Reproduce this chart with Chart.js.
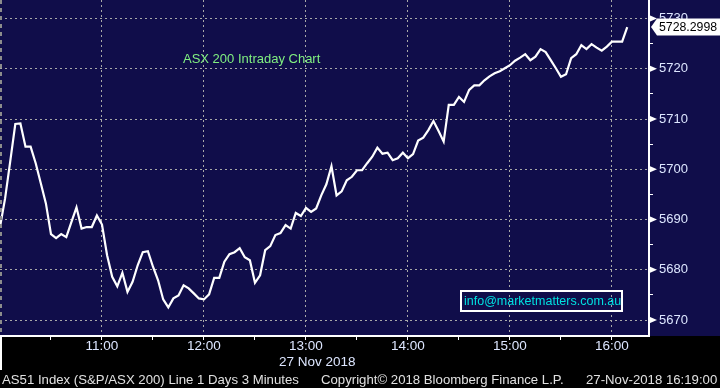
<!DOCTYPE html>
<html>
<head>
<meta charset="utf-8">
<script src="https://cdn.jsdelivr.net/npm/chart.js"></script>
<style>
  html, body { margin: 0; padding: 0; background: #000; }
</style>
</head>
<body>
<canvas id="myChart" width="720" height="388"></canvas>
<script>
// AS51 intraday, 3 minute bars from 10:00
const startTime = '10:00';
const stepMinutes = 3;
const values = [
  5688.5, 5694.2, 5701.5, 5709.0, 5709.1, 5704.5, 5704.5, 5701.2, 5697.2, 5693.2,
  5687.1, 5686.3, 5687.1, 5686.5, 5689.5, 5692.4, 5688.2, 5688.5, 5688.5, 5690.8,
  5689.0, 5682.9, 5678.6, 5676.7, 5679.4, 5675.6, 5677.6, 5680.9, 5683.5, 5683.7,
  5680.6, 5677.9, 5674.1, 5672.5, 5674.3, 5674.9, 5676.9, 5676.3, 5675.3, 5674.3,
  5674.1, 5675.1, 5678.4, 5678.4, 5681.6, 5683.1, 5683.5, 5684.3, 5682.5, 5681.9,
  5677.4, 5678.9, 5683.9, 5684.7, 5686.9, 5687.3, 5688.9, 5688.2, 5691.3, 5690.7,
  5692.3, 5691.5, 5692.2, 5694.8, 5697.0, 5700.6, 5694.8, 5695.6, 5697.8, 5698.5,
  5699.8, 5699.8, 5701.2, 5702.5, 5704.3, 5703.1, 5703.3, 5701.8, 5702.2, 5703.3,
  5702.2, 5703.0, 5705.7, 5706.3, 5707.8, 5709.6, 5707.6, 5705.5, 5712.8, 5712.8,
  5714.4, 5713.4, 5715.8, 5716.7, 5716.7, 5717.7, 5718.5, 5719.1, 5719.5, 5720.1,
  5720.7, 5721.6, 5722.2, 5722.9, 5721.7, 5722.4, 5723.9, 5723.3, 5721.7, 5720.1,
  5718.4, 5718.9, 5722.1, 5722.9, 5724.7, 5723.9, 5724.9, 5724.2, 5723.6, 5724.4,
  5725.4, 5725.4, 5725.4, 5728.2998
];
const lastPriceLabel = '5728.2998';

// axis ticks (minutes after 10:00 / index level)
const xTickMinutes = [0, 30, 60, 90, 120, 150, 180, 210, 240, 270, 300, 330, 360];
const hourLabels = ['10:00', '11:00', '12:00', '13:00', '14:00', '15:00', '16:00'];
const yTicks = [5670, 5675, 5680, 5685, 5690, 5695, 5700, 5705, 5710, 5715, 5720, 5725, 5730];

const navy = '#100d4a';
const gridGray = '#a8a8a8';
const labelColor = '#dde6ff';

Chart.defaults.font.family = "'Liberation Sans', Arial, sans-serif";

const points = values.map((v, i) => ({ x: i * stepMinutes, y: v }));

const decor = {
  id: 'decor',
  beforeDraw(chart) {
    const { ctx, chartArea: a } = chart;
    ctx.save();
    ctx.fillStyle = '#000';
    ctx.fillRect(0, 0, chart.width, chart.height);
    ctx.fillStyle = navy;
    ctx.fillRect(0, 0, chart.width, a.bottom);
    ctx.restore();
  },
  afterDraw(chart) {
    const { ctx, chartArea: a } = chart;
    const y = chart.scales.y;
    ctx.save();

    // left edge dashed line and white separator under it
    ctx.strokeStyle = '#8c8c8c';
    ctx.lineWidth = 2;
    ctx.setLineDash([4, 4]);
    ctx.beginPath();
    ctx.moveTo(1, a.top);
    ctx.lineTo(1, a.bottom);
    ctx.stroke();
    ctx.setLineDash([]);
    ctx.strokeStyle = '#fff';
    ctx.beginPath();
    ctx.moveTo(1, a.bottom);
    ctx.lineTo(1, 370);
    ctx.stroke();

    // right axis arrows at major ticks
    ctx.fillStyle = '#fff';
    yTicks.filter(v => v % 10 === 0).forEach(v => {
      const py = y.getPixelForValue(v);
      ctx.beginPath();
      ctx.moveTo(a.right, py - 3.5);
      ctx.lineTo(a.right + 8, py);
      ctx.lineTo(a.right, py + 3.5);
      ctx.closePath();
      ctx.fill();
    });

    // title
    ctx.font = "13px 'Liberation Sans'";
    ctx.textBaseline = 'middle';
    ctx.textAlign = 'left';
    ctx.fillStyle = '#80f080';
    ctx.fillText('ASX 200 Intraday Chart', 183, 59);

    // email box
    ctx.strokeStyle = '#fff';
    ctx.lineWidth = 2;
    ctx.strokeRect(461, 291, 161, 20);
    ctx.font = "12.5px 'Liberation Sans'";
    ctx.fillStyle = '#00e0e0';
    ctx.fillText('info@marketmatters.com.au', 464, 301.5);

    // date under axis
    ctx.font = "13.5px 'Liberation Sans'";
    ctx.fillStyle = labelColor;
    ctx.fillText('27 Nov 2018', 279, 362);

    // footer
    ctx.font = "13.2px 'Liberation Sans'";
    ctx.fillStyle = '#e0e0e0';
    ctx.fillText('AS51 Index (S&P/ASX 200) Line 1 Days 3 Minutes', 2, 380);
    ctx.fillText('Copyright\u00a9 2018 Bloomberg Finance L.P.', 321, 380);
    ctx.fillText('27-Nov-2018 16:19:00', 586, 380);

    // last price tag
    const py = y.getPixelForValue(values[values.length - 1]);
    ctx.fillStyle = '#fff';
    ctx.beginPath();
    ctx.moveTo(a.right + 2, py);
    ctx.lineTo(a.right + 8, py - 8.5);
    ctx.lineTo(chart.width, py - 8.5);
    ctx.lineTo(chart.width, py + 8.5);
    ctx.lineTo(a.right + 8, py + 8.5);
    ctx.closePath();
    ctx.fill();
    ctx.fillStyle = '#000';
    ctx.font = "12.3px 'Liberation Sans'";
    ctx.fillText(lastPriceLabel, 659, py + 0.5);

    ctx.restore();
  }
};

new Chart(document.getElementById('myChart'), {
  type: 'line',
  data: {
    datasets: [{
      label: 'AS51',
      data: points,
      borderColor: '#ffffff',
      borderWidth: 2.2,
      pointRadius: 0,
      tension: 0,
      fill: false
    }]
  },
  options: {
    responsive: false,
    animation: false,
    devicePixelRatio: 1,
    layout: { padding: 0 },
    plugins: {
      legend: { display: false },
      tooltip: { enabled: false },
      title: { display: false }
    },
    scales: {
      x: {
        type: 'linear',
        min: 0,
        max: 381.8,
        afterBuildTicks: s => { s.ticks = xTickMinutes.map(v => ({ value: v })); },
        afterFit: s => { s.height = 52; s.paddingLeft = 0; s.paddingRight = 0; },
        ticks: {
          autoSkip: false,
          maxRotation: 0,
          padding: 0,
          color: labelColor,
          font: { size: 13.5, lineHeight: 1 },
          callback: v => (v % 60 === 0 && v > 0) ? hourLabels[v / 60] : ''
        },
        grid: {
          color: c => (c.tick && c.tick.value % 60 === 0 && c.tick.value > 0) ? gridGray : 'rgba(0,0,0,0)',
          lineWidth: 1,
          tickColor: '#fff',
          tickLength: 4,
          tickBorderDash: []
        },
        border: { display: true, color: '#fff', width: 2, dash: [2, 3] }
      },
      y: {
        position: 'right',
        min: 5666.82,
        max: 5733.68,
        afterBuildTicks: s => { s.ticks = yTicks.map(v => ({ value: v })); },
        afterFit: s => { s.width = 71; s.paddingTop = 0; s.paddingBottom = 0; },
        ticks: {
          autoSkip: false,
          padding: 6,
          color: labelColor,
          font: { size: 13 },
          callback: v => v % 10 === 0 ? String(v) : ''
        },
        grid: {
          color: c => (c.tick && c.tick.value % 10 === 0) ? gridGray : 'rgba(0,0,0,0)',
          lineWidth: 1,
          tickColor: '#fff',
          tickLength: 4,
          tickBorderDash: []
        },
        border: { display: true, color: '#fff', width: 2, dash: [2, 3] }
      }
    }
  },
  plugins: [decor]
});
</script>
</body>
</html>
